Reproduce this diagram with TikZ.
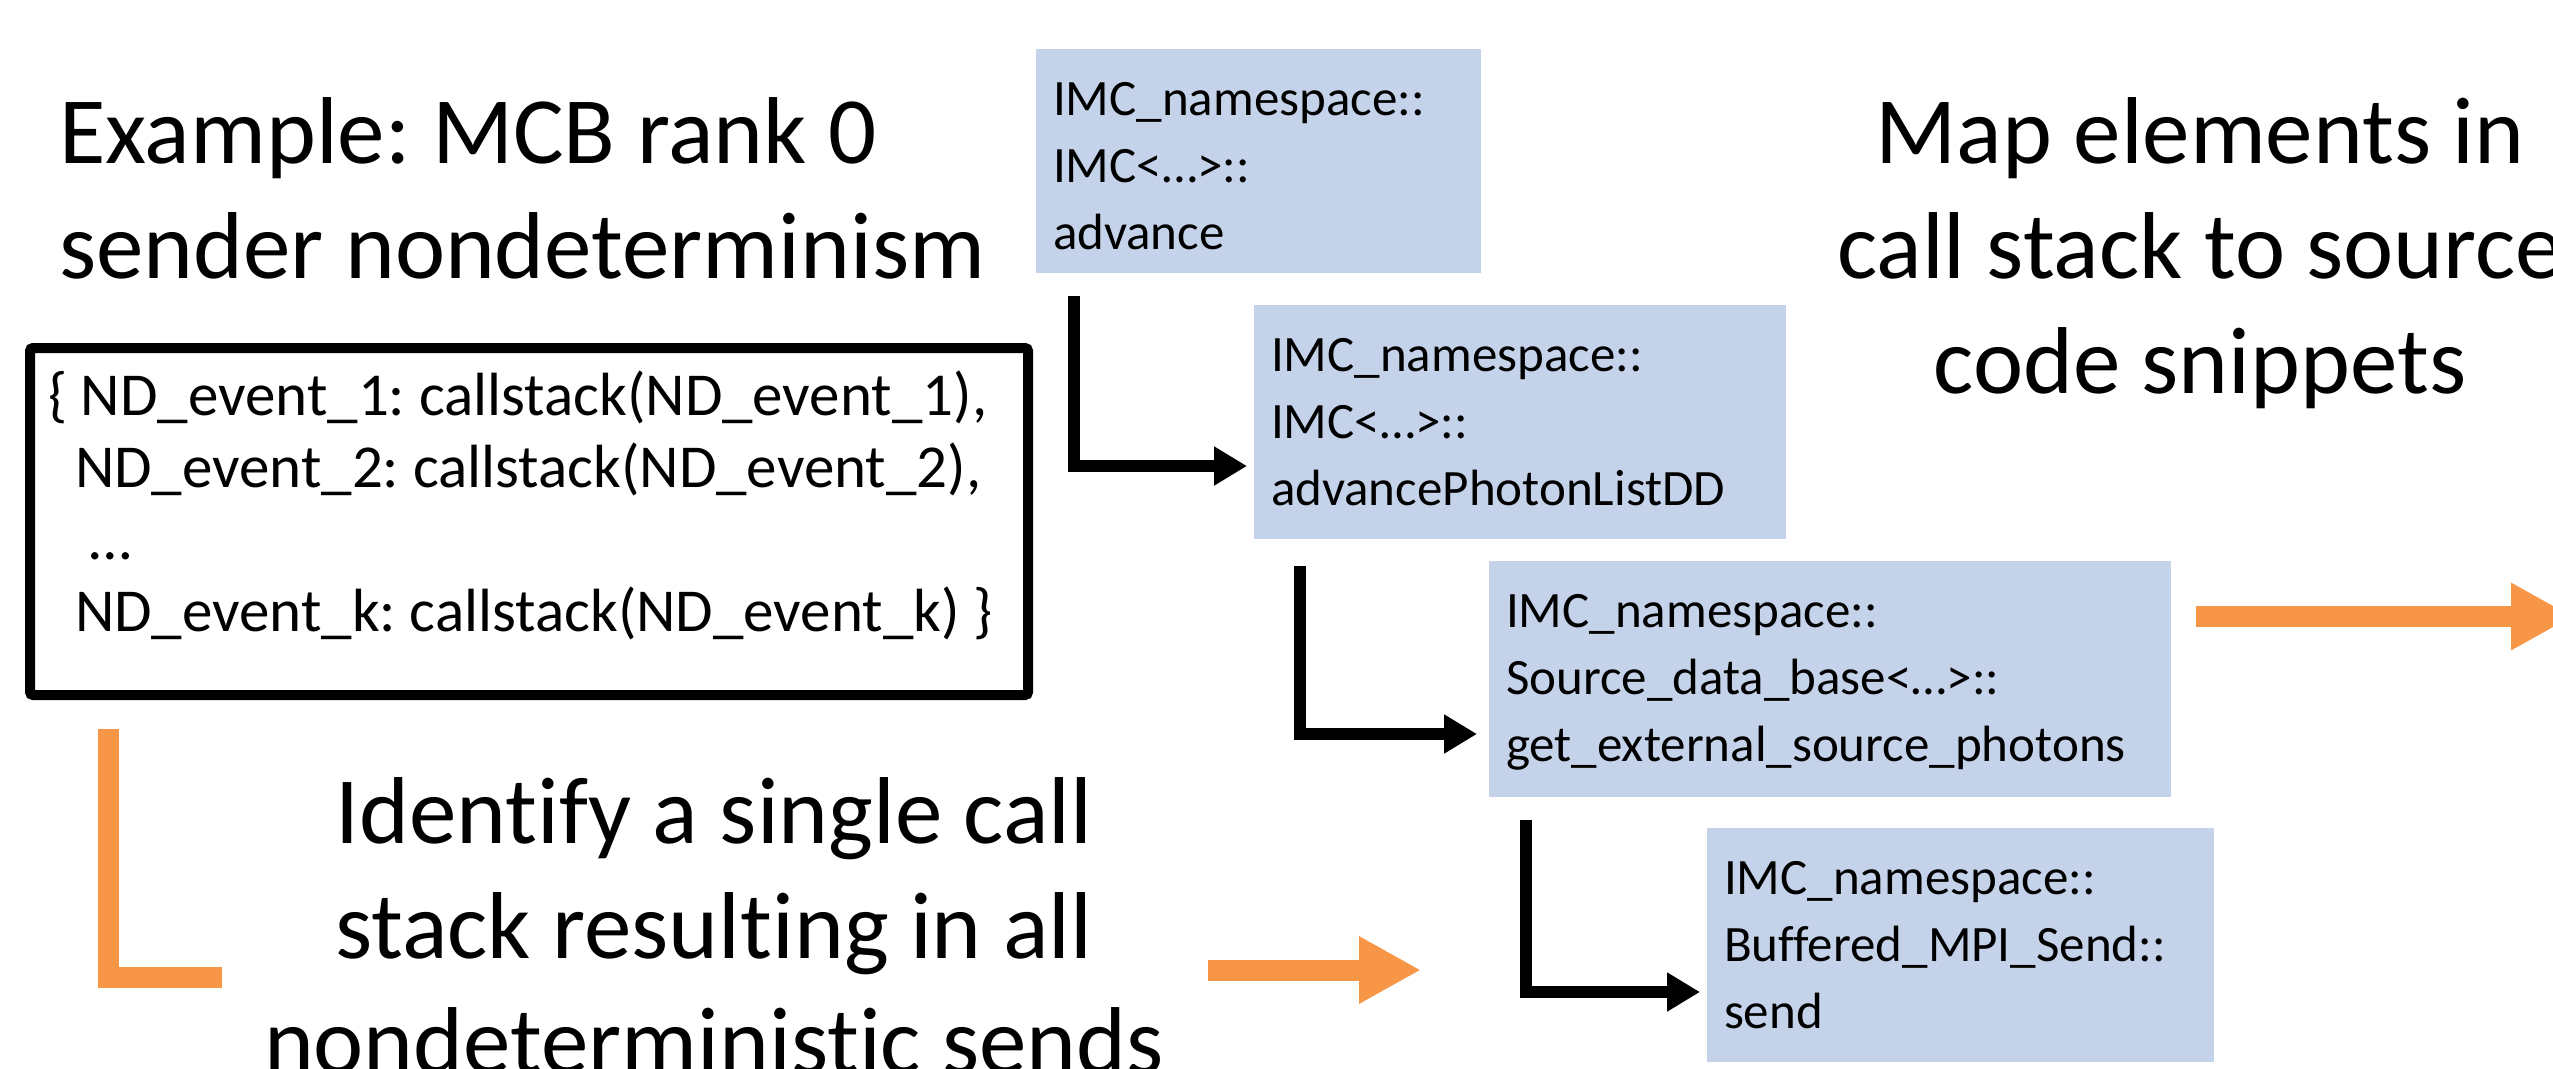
\documentclass[tikz,border=0pt]{standalone}
\usepackage{fontspec}
\setmainfont{Carlito}[Ligatures=NoCommon]
\usetikzlibrary{arrows.meta}
\frenchspacing
\definecolor{boxblue}{RGB}{197,211,234}
\definecolor{orng}{RGB}{247,150,70}
\newcommand\fsa{\rule{0pt}{45pt}}
\newcommand\fsb{\rule{0pt}{100pt}}
\newcommand\fsc{\rule{0pt}{50pt}}
\tikzset{
  blue box/.style={fill=boxblue, inner sep=0pt, outer sep=0pt, anchor=north west},
  box text/.style={inner sep=0pt, outer sep=0pt, anchor=north west, align=left,
    font=\fontsize{51pt}{67pt}\selectfont},
  title text/.style={inner sep=0pt, outer sep=0pt, anchor=north, align=center,
    font=\fontsize{95pt}{115pt}\selectfont},
  elbow/.style={line width=12pt, line join=miter, -{Triangle[length=33pt,width=37pt]}},
  orange arrow/.style={orng, line width=21pt, -{Triangle[length=62pt,width=63pt]}},
}
\begin{document}
\frenchspacing
\begin{tikzpicture}[x=1pt,y=-1pt]
\clip (0,0) rectangle (2553,1068);
\fill[white] (0,0) rectangle (2553,1068);

% titles
\node[title text, anchor=north west, align=left] (ttl) at (59,63)
  {\fsb Example: MCB rank 0\\sender nondeterminism};
\node[title text] (map) at (2200,63)
  {\fsb Map elements in\\call stack to source\\code snippets};
\node[title text] (ident) at (714,743)
  {\fsb Identify a single call\\stack resulting in all\\nondeterministic sends};

% black box
\node[draw, line width=10pt, rounded corners=3pt, minimum width=998pt, minimum height=347pt,
  inner sep=0pt, outer sep=0pt, anchor=north west] (bb) at (30,348) {};
\node[anchor=north west, inner sep=0pt, outer sep=0pt, align=left,
  font=\fontsize{61pt}{72.3pt}\selectfont] (bbt) at (48,365)
  {\fsc\{ ND\_event\_1: callstack(ND\_event\_1),\\
   \hspace*{27pt}ND\_event\_2: callstack(ND\_event\_2),\\
   \hspace*{41pt}…\\
   \hspace*{27pt}ND\_event\_k: callstack(ND\_event\_k) \}};

% blue call-stack boxes
\node[blue box, minimum width=445pt, minimum height=224pt] (b1) at (1036,49) {};
\node[box text] (t1) at ([shift={(17,21)}]b1.north west)
  {\fsa IMC\_namespace::\\IMC<…>::\\advance};
\node[blue box, minimum width=532pt, minimum height=234pt] (b2) at (1254,305) {};
\node[box text] (t2) at ([shift={(17,21)}]b2.north west)
  {\fsa IMC\_namespace::\\IMC<…>::\\advancePhotonListDD};
\node[blue box, minimum width=682pt, minimum height=236pt] (b3) at (1489,561) {};
\node[box text] (t3) at ([shift={(17,21)}]b3.north west)
  {\fsa IMC\_namespace::\\Source\_data\_base<…>::\\get\_external\_source\_photons};
\node[blue box, minimum width=507pt, minimum height=234pt] (b4) at (1707,828) {};
\node[box text] (t4) at ([shift={(17,21)}]b4.north west)
  {\fsa IMC\_namespace::\\Buffered\_MPI\_Send::\\send};

% black elbow connectors
\coordinate (a1s) at ([shift={(38,23)}]b1.south west);
\coordinate (a1e) at ([shift={(-7,44)}]b2.west);
\draw[elbow] (a1s) |- (a1e);
\coordinate (a2s) at ([shift={(46,27)}]b2.south west);
\coordinate (a2e) at ([shift={(-12,55)}]b3.west);
\draw[elbow] (a2s) |- (a2e);
\coordinate (a3s) at ([shift={(37,23)}]b3.south west);
\coordinate (a3e) at ([shift={(-7,47)}]b4.west);
\draw[elbow] (a3s) |- (a3e);

% orange arrows
\coordinate (o1s) at ([shift={(25,-62.5)}]b3.east);
\coordinate (o1e) at (2573,616.5);
\draw[orange arrow] (o1s) -- (o1e);
\coordinate (o2s) at (1208,970);
\coordinate (o2e) at (1421,970);
\draw[orange arrow] (o2s) -- (o2e);
\coordinate (o3s) at (108,729);
\coordinate (o3c) at (108,977.5);
\coordinate (o3e) at (222,977.5);
\draw[orng, line width=21pt, line join=miter] (o3s) -- (o3c) -- (o3e);
\end{tikzpicture}
\end{document}
